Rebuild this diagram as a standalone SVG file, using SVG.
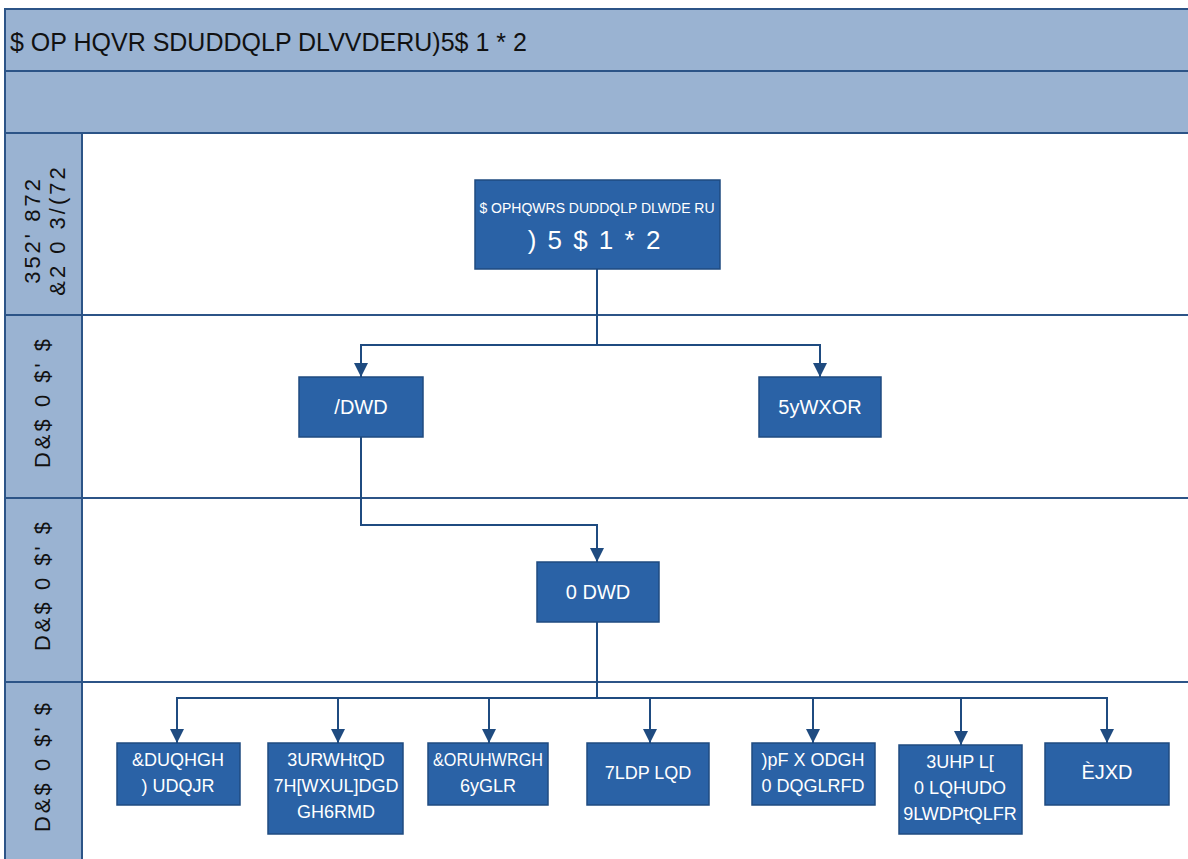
<svg xmlns="http://www.w3.org/2000/svg" width="1188" height="859" viewBox="0 0 1188 859">
  <style>
    .band { fill: #9ab3d2; stroke: #2c5487; stroke-width: 2; }
    .lane { fill: #ffffff; stroke: #2c5487; stroke-width: 2; }
    .node rect { fill: #2a62a6; stroke: #1f4b80; stroke-width: 1.5; }
    .node text { fill: #ffffff; font-family: "Liberation Sans", Arial, sans-serif; font-size: 18px; text-anchor: middle; }
    .lbl { fill: #111111; font-family: "Liberation Sans", Arial, sans-serif; font-size: 22px; text-anchor: middle; letter-spacing: 3px; }
    .title { fill: #111111; font-family: "Liberation Sans", Arial, sans-serif; font-size: 25px; }
    .conn { fill: none; stroke: #1f4b80; stroke-width: 2; }
  </style>
  <defs>
    <marker id="ah" markerWidth="14" markerHeight="14" refX="14" refY="7" orient="auto" markerUnits="userSpaceOnUse" viewBox="0 0 14 14">
      <path d="M0,0 L14,7 L0,14 Z" fill="#1f4b80"/>
    </marker>
  </defs>

  <rect width="1188" height="859" fill="#ffffff"/>

  <!-- header bands -->
  <g id="header">
    <rect class="band" x="5" y="9" width="1190" height="62"/>
    <rect class="band" x="5" y="71" width="1190" height="62"/>
    <text class="title" x="10" y="51">$ OP HQVR SDUDDQLP DLVVDERU)5$ 1 * 2</text>
  </g>

  <!-- swimlanes -->
  <g id="lanes">
    <rect class="lane" x="82" y="133" width="1110" height="182"/>
    <rect class="lane" x="82" y="315" width="1110" height="183"/>
    <rect class="lane" x="82" y="498" width="1110" height="184"/>
    <rect class="lane" x="82" y="682" width="1110" height="182"/>
    <rect class="band" x="5" y="133" width="77" height="182"/>
    <rect class="band" x="5" y="315" width="77" height="183"/>
    <rect class="band" x="5" y="498" width="77" height="184"/>
    <rect class="band" x="5" y="682" width="77" height="182"/>
    <text class="lbl" transform="translate(40 230) rotate(-90)">352' 872</text>
    <text class="lbl" transform="translate(65 230) rotate(-90)">&amp;2 0 3/(72</text>
    <text class="lbl" transform="translate(50 402) rotate(-90)">D&amp;$ 0 $' $</text>
    <text class="lbl" transform="translate(50 585) rotate(-90)">D&amp;$ 0 $' $</text>
    <text class="lbl" transform="translate(50 766) rotate(-90)">D&amp;$ 0 $' $</text>
  </g>

  <!-- connectors -->
  <g id="connectors">
    <path class="conn" d="M597,269 V345 H361 V377" marker-end="url(#ah)"/>
    <path class="conn" d="M597,345 H820 V377" marker-end="url(#ah)"/>
    <path class="conn" d="M361,437 V525 H597 V562" marker-end="url(#ah)"/>
    <path class="conn" d="M597,622 V698 H177 V743" marker-end="url(#ah)"/>
    <path class="conn" d="M338,698 V743" marker-end="url(#ah)"/>
    <path class="conn" d="M489,698 V743" marker-end="url(#ah)"/>
    <path class="conn" d="M650,698 V743" marker-end="url(#ah)"/>
    <path class="conn" d="M597,698 H1107 V743" marker-end="url(#ah)"/>
    <path class="conn" d="M813,698 V743" marker-end="url(#ah)"/>
    <path class="conn" d="M961,698 V745" marker-end="url(#ah)"/>
  </g>

  <!-- nodes -->
  <g id="n-produto" class="node">
    <rect x="475" y="180" width="245" height="89"/>
    <text x="597" y="213" style="font-size:14px">$ OPHQWRS DUDDQLP DLWDE RU</text>
    <text x="595" y="249" style="font-size:26px; letter-spacing:2px">) 5 $ 1 * 2</text>
  </g>
  <g id="n-lata" class="node">
    <rect x="299" y="377" width="124" height="60"/>
    <text x="361" y="414" style="font-size:20px">/DWD</text>
  </g>
  <g id="n-rotulo" class="node">
    <rect x="759" y="377" width="122" height="60"/>
    <text x="820" y="414" style="font-size:20px">5yWXOR</text>
  </g>
  <g id="n-mata" class="node">
    <rect x="537" y="562" width="122" height="60"/>
    <text x="598" y="599" style="font-size:20px">0 DWD</text>
  </g>
  <g id="n-carne" class="node">
    <rect x="117" y="743" width="123" height="62"/>
    <text x="178" y="766">&amp;DUQHGH</text>
    <text x="178" y="792">) UDQJR</text>
  </g>
  <g id="n-proteina" class="node">
    <rect x="268" y="743" width="135" height="91"/>
    <text x="336" y="766">3URWHtQD</text>
    <text x="336" y="792">7H[WXUL]DGD</text>
    <text x="336" y="818">GH6RMD</text>
  </g>
  <g id="n-cloreto" class="node">
    <rect x="428" y="743" width="120" height="62"/>
    <text x="488" y="766" textLength="110" lengthAdjust="spacingAndGlyphs">&amp;ORUHWRGH</text>
    <text x="488" y="792">6yGLR</text>
  </g>
  <g id="n-tiamina" class="node">
    <rect x="587" y="743" width="122" height="62"/>
    <text x="648" y="779">7LDP LQD</text>
  </g>
  <g id="n-fecula" class="node">
    <rect x="752" y="743" width="123" height="62"/>
    <text x="813" y="766">)pF X ODGH</text>
    <text x="813" y="792">0 DQGLRFD</text>
  </g>
  <g id="n-premix" class="node">
    <rect x="899" y="745" width="123" height="89"/>
    <text x="960" y="768">3UHP L[</text>
    <text x="960" y="794">0 LQHUDO</text>
    <text x="960" y="820">9LWDPtQLFR</text>
  </g>
  <g id="n-agua" class="node">
    <rect x="1045" y="743" width="124" height="62"/>
    <text x="1107" y="779" style="font-size:20px">ÈJXD</text>
  </g>
</svg>
